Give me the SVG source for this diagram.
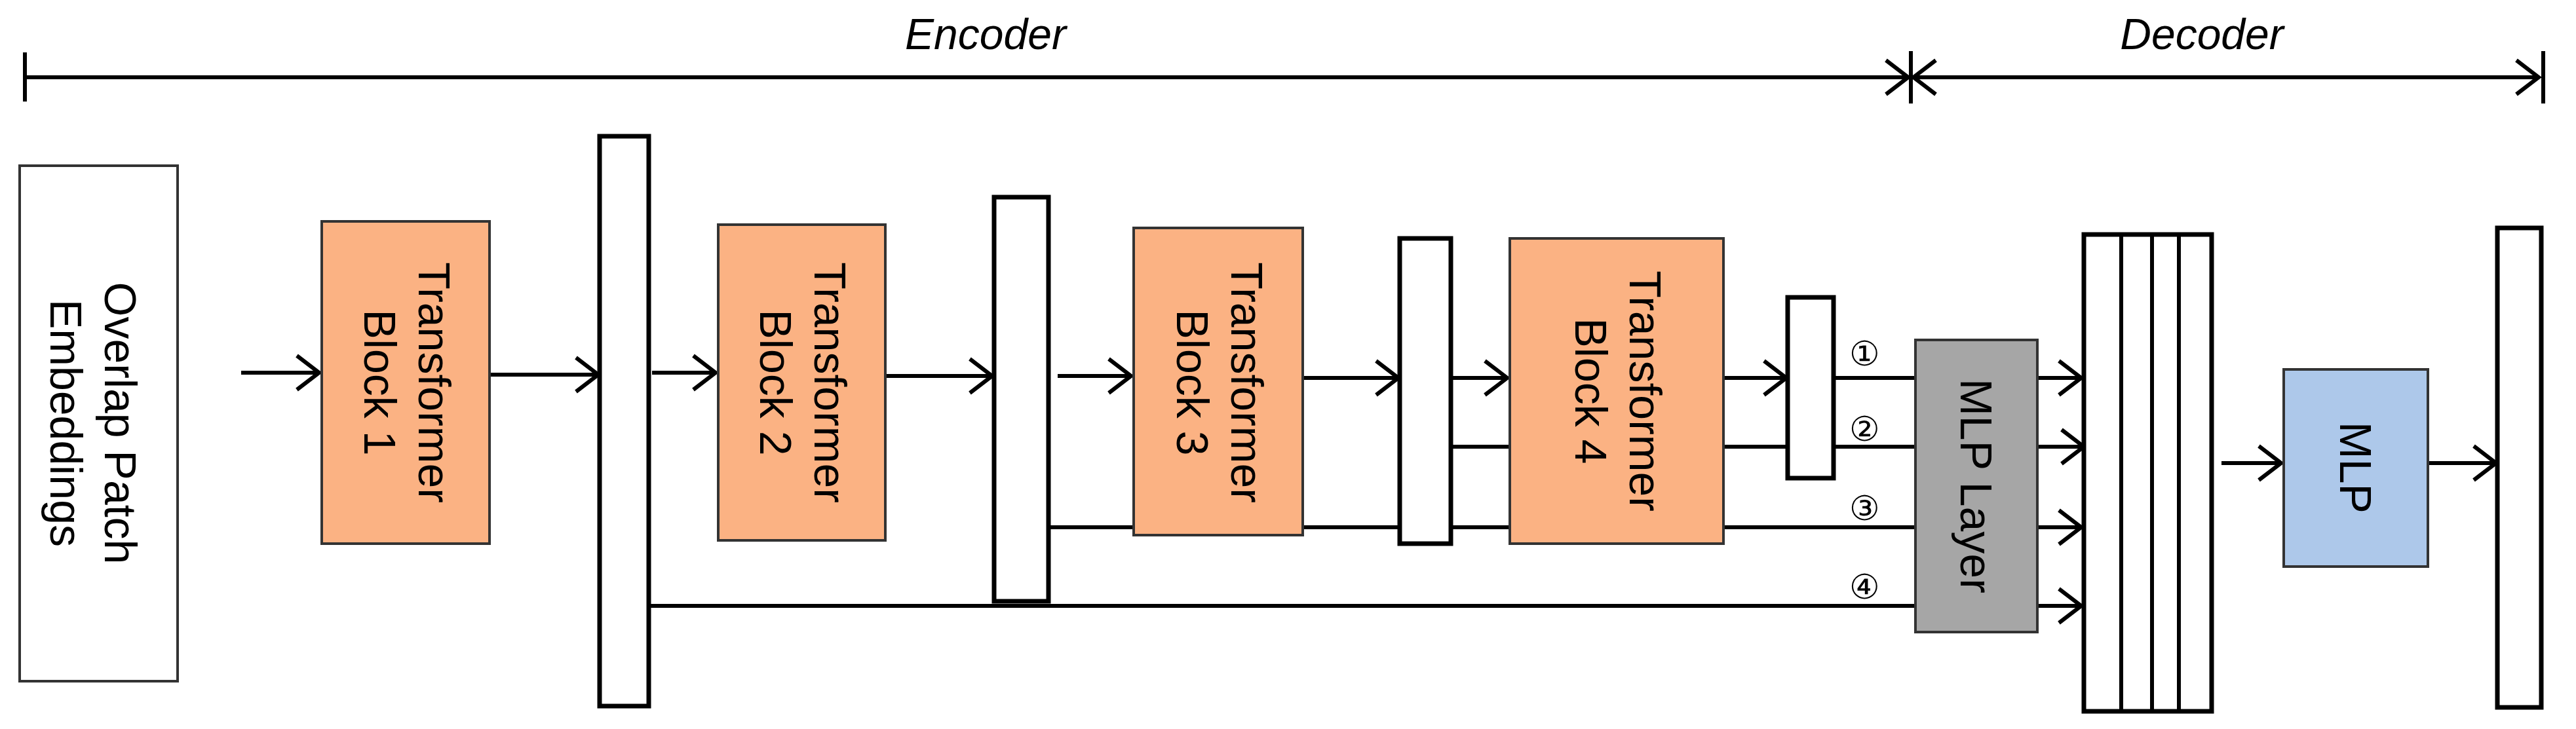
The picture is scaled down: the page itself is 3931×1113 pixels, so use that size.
<svg xmlns="http://www.w3.org/2000/svg" width="3931" height="1113" viewBox="0 0 3931 1113">
<style>
.t{font-family:"Liberation Sans",Arial,sans-serif;font-size:68px;fill:#000}
.h{font-family:"Liberation Sans",Arial,sans-serif;font-size:66px;font-style:italic;fill:#000}
.c{font-family:"Liberation Serif","DejaVu Serif",serif;font-size:52px;fill:#000}
.bar{fill:#fff;stroke:#000;stroke-width:7}
.tb{fill:#FBB283;stroke:#333;stroke-width:4}
.ln{stroke:#000;stroke-width:6;fill:none}
</style>
<defs>
<marker id="a" markerUnits="userSpaceOnUse" markerWidth="50" markerHeight="70" refX="40" refY="30" orient="auto">
<path d="M6 4 L40 30 L6 56" fill="none" stroke="#000" stroke-width="6"/>
</marker>
<marker id="s" markerUnits="userSpaceOnUse" markerWidth="50" markerHeight="70" refX="4" refY="30" orient="auto">
<path d="M38 4 L4 30 L38 56" fill="none" stroke="#000" stroke-width="6"/>
</marker>
</defs>
<g id="scale">
<line class="ln" x1="38" y1="80" x2="38" y2="155"/>
<line class="ln" x1="40" y1="118" x2="2912" y2="118" marker-end="url(#a)"/>
<line class="ln" x1="2916" y1="78" x2="2916" y2="158"/>
<line class="ln" x1="2920" y1="118" x2="3874" y2="118" marker-start="url(#s)" marker-end="url(#a)"/>
<line class="ln" x1="3881" y1="78" x2="3881" y2="158"/>
<text class="h" x="1504" y="75" text-anchor="middle">Encoder</text>
<text class="h" x="3360" y="75" text-anchor="middle">Decoder</text>
</g>
<g id="connectors">
<line class="ln" x1="990" y1="925" x2="2923" y2="925"/>
<line class="ln" x1="1600" y1="805" x2="2923" y2="805"/>
<line class="ln" x1="2214" y1="682" x2="2923" y2="682"/>
<line class="ln" x1="2798" y1="577" x2="2923" y2="577"/>
<line class="ln" x1="368" y1="569" x2="487" y2="569" marker-end="url(#a)"/>
<line class="ln" x1="747" y1="572" x2="913" y2="572" marker-end="url(#a)"/>
<line class="ln" x1="995" y1="569" x2="1092" y2="569" marker-end="url(#a)"/>
<line class="ln" x1="1351" y1="574" x2="1514" y2="574" marker-end="url(#a)"/>
<line class="ln" x1="1614" y1="574" x2="1726" y2="574" marker-end="url(#a)"/>
<line class="ln" x1="1988" y1="577" x2="2134" y2="577" marker-end="url(#a)"/>
<line class="ln" x1="2216" y1="577" x2="2300" y2="577" marker-end="url(#a)"/>
<line class="ln" x1="2630" y1="577" x2="2726" y2="577" marker-end="url(#a)"/>
<line class="ln" x1="3109" y1="577" x2="3176" y2="577" marker-end="url(#a)"/>
<line class="ln" x1="3109" y1="682" x2="3180" y2="682" marker-end="url(#a)"/>
<line class="ln" x1="3109" y1="805" x2="3176" y2="805" marker-end="url(#a)"/>
<line class="ln" x1="3109" y1="925" x2="3176" y2="925" marker-end="url(#a)"/>
<line class="ln" x1="3390" y1="707" x2="3481" y2="707" marker-end="url(#a)"/>
<line class="ln" x1="3705" y1="707" x2="3809" y2="707" marker-end="url(#a)"/>
<text class="c" x="2845" y="558" text-anchor="middle">①</text>
<text class="c" x="2845" y="673" text-anchor="middle">②</text>
<text class="c" x="2845" y="794" text-anchor="middle">③</text>
<text class="c" x="2845" y="914" text-anchor="middle">④</text>
</g>
<g id="overlap">
<rect x="30" y="253" width="241" height="787" fill="#fff" stroke="#333" stroke-width="4"/>
<text class="t" transform="translate(150,646) rotate(90)" text-anchor="middle"><tspan x="0" y="-10">Overlap Patch</tspan><tspan x="0" y="73">Embeddings</tspan></text>
</g>
<g id="tb1">
<rect class="tb" x="491" y="338" width="256" height="492"/>
<text class="t" transform="translate(619,584) rotate(90)" text-anchor="middle"><tspan x="0" y="-20">Transformer</tspan><tspan x="0" y="63">Block 1</tspan></text>
</g>
<g id="bar1"><rect class="bar" x="915" y="208" width="75" height="870"/></g>
<g id="tb2">
<rect class="tb" x="1096" y="343" width="255" height="482"/>
<text class="t" transform="translate(1223,584) rotate(90)" text-anchor="middle"><tspan x="0" y="-20">Transformer</tspan><tspan x="0" y="63">Block 2</tspan></text>
</g>
<g id="bar2"><rect class="bar" x="1517" y="301" width="83" height="617"/></g>
<g id="tb3">
<rect class="tb" x="1730" y="348" width="258" height="469"/>
<text class="t" transform="translate(1859,584) rotate(90)" text-anchor="middle"><tspan x="0" y="-20">Transformer</tspan><tspan x="0" y="63">Block 3</tspan></text>
</g>
<g id="bar3"><rect class="bar" x="2136" y="364" width="78" height="466"/></g>
<g id="tb4">
<rect class="tb" x="2304" y="364" width="326" height="466"/>
<text class="t" transform="translate(2467,597) rotate(90)" text-anchor="middle"><tspan x="0" y="-20">Transformer</tspan><tspan x="0" y="63">Block 4</tspan></text>
</g>
<g id="bar4"><rect class="bar" x="2728" y="454" width="70" height="276"/></g>
<g id="mlplayer">
<rect x="2923" y="519" width="186" height="446" fill="#A6A6A6" stroke="#333" stroke-width="4"/>
<text class="t" transform="translate(3016,742) rotate(90)" text-anchor="middle" y="24">MLP Layer</text>
</g>
<g id="stack">
<rect class="bar" x="3180" y="358" width="195" height="728"/>
<line class="ln" x1="3237" y1="358" x2="3237" y2="1086"/>
<line class="ln" x1="3284" y1="358" x2="3284" y2="1086"/>
<line class="ln" x1="3325" y1="358" x2="3325" y2="1086"/>
</g>
<g id="mlp">
<rect x="3485" y="564" width="220" height="301" fill="#ADC8EA" stroke="#333" stroke-width="4"/>
<text class="t" transform="translate(3595,714) rotate(90)" text-anchor="middle" y="24">MLP</text>
</g>
<g id="out"><rect class="bar" x="3811" y="348" width="67" height="732"/></g>
</svg>
